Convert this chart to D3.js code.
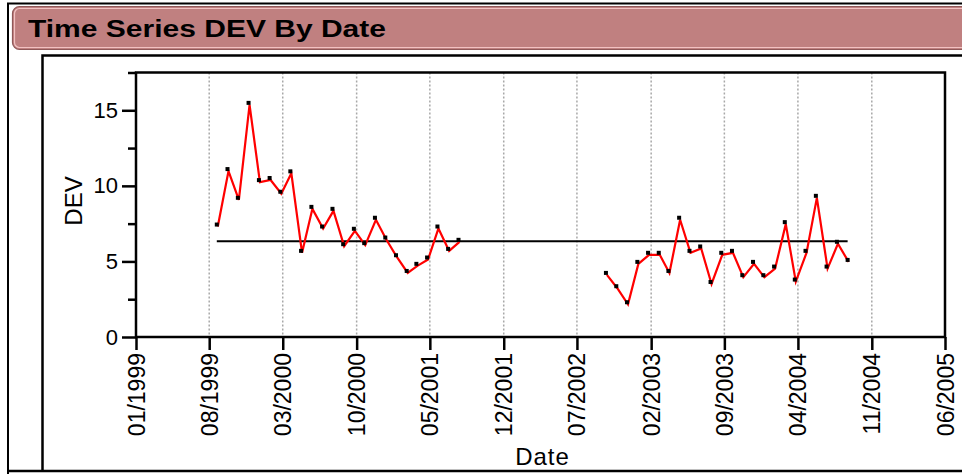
<!DOCTYPE html>
<html lang="en">
<head>
    <meta charset="UTF-8">
    <title>Time Series DEV By Date</title>
    <script src="https://d3js.org/d3.v7.min.js"></script>
    <style>
        body { margin: 0; background: #fff; }
        svg { display: block; font-family: Arial, "Liberation Sans", sans-serif; }
    </style>
</head>
<body>
    <div id="chart"></div>

    <script>
        // monthly readings, two separate periods (gap in between)
        var period1Dates = ["1999-08-23", "1999-09-23", "1999-10-23", "1999-11-23", "1999-12-23", "2000-01-23",
                            "2000-02-23", "2000-03-23", "2000-04-23", "2000-05-23", "2000-06-23", "2000-07-23",
                            "2000-08-23", "2000-09-23", "2000-10-23", "2000-11-23", "2000-12-23", "2001-01-23",
                            "2001-02-23", "2001-03-23", "2001-04-23", "2001-05-23", "2001-06-23", "2001-07-23"];
        var period1DEV = [7.44, 11.11, 9.21, 15.49, 10.38, 10.52, 9.61, 10.96, 5.70, 8.61, 7.31, 8.48,
                          6.14, 7.16, 6.21, 7.89, 6.58, 5.41, 4.37, 4.84, 5.26, 7.31, 5.83, 6.43];

        var period2Dates = ["2002-09-23", "2002-10-23", "2002-11-23", "2002-12-23", "2003-01-23", "2003-02-23",
                            "2003-03-23", "2003-04-23", "2003-05-23", "2003-06-23", "2003-07-23", "2003-08-23",
                            "2003-09-23", "2003-10-23", "2003-11-23", "2003-12-23", "2004-01-23", "2004-02-23",
                            "2004-03-23", "2004-04-23", "2004-05-23", "2004-06-23", "2004-07-23", "2004-08-23"];
        var period2DEV = [4.24, 3.36, 2.30, 4.97, 5.57, 5.57, 4.37, 7.89, 5.70, 5.99, 3.64, 5.57,
                          5.70, 4.09, 4.97, 4.09, 4.66, 7.60, 3.80, 5.70, 9.34, 4.66, 6.30, 5.10];

        var meanDEV = 6.34;

        var xTickLabels = ["01/1999", "08/1999", "03/2000", "10/2000", "05/2001", "12/2001",
                           "07/2002", "02/2003", "09/2003", "04/2004", "11/2004", "06/2005"];
        var yMajorTicks = [0, 5, 10, 15];
        var yMinorTicks = [2.5, 7.5, 12.5, 17.5];

        var width = 962, height = 474;
        var plot = { left: 136, top: 72.5, right: 945, bottom: 337 };

        var parseDay = d3.timeParse("%Y-%m-%d");
        var parseTick = d3.timeParse("%m/%Y");

        var svg = d3.select("#chart").append("svg")
            .attr("width", width)
            .attr("height", height);

        // outer frame
        svg.append("path")
            .attr("d", "M8,474 V3.5 H962")
            .attr("fill", "none")
            .attr("stroke", "#000")
            .attr("stroke-width", 2);
        svg.append("line")
            .attr("x1", 8).attr("x2", width)
            .attr("y1", 471).attr("y2", 471)
            .attr("stroke", "#000").attr("stroke-width", 2.5);

        // title bar
        svg.append("rect")
            .attr("x", 12.5).attr("y", 6.5)
            .attr("width", 980).attr("height", 43)
            .attr("rx", 7)
            .attr("fill", "#c08080")
            .attr("stroke", "#8f5858")
            .attr("stroke-width", 1.2);
        svg.append("rect")
            .attr("x", 14.5).attr("y", 8.5)
            .attr("width", 976).attr("height", 39)
            .attr("rx", 5)
            .attr("fill", "none")
            .attr("stroke", "#f2c2c2")
            .attr("stroke-width", 1.2);
        svg.append("text")
            .attr("x", 28).attr("y", 37)
            .attr("font-size", 23)
            .attr("font-weight", "bold")
            .attr("textLength", 358)
            .attr("lengthAdjust", "spacingAndGlyphs")
            .text("Time Series DEV By Date");

        // inner frame
        svg.append("path")
            .attr("d", "M42.5,471 V55.5 H962")
            .attr("fill", "none")
            .attr("stroke", "#000")
            .attr("stroke-width", 2.5);

        var x = d3.scaleTime()
            .domain([parseTick(xTickLabels[0]), parseTick(xTickLabels[xTickLabels.length - 1])])
            .range([plot.left, plot.right]);

        var y = d3.scaleLinear()
            .domain([0, 17.5])
            .range([plot.bottom, plot.top]);

        var xTicks = xTickLabels.map(function(s) { return parseTick(s); });

        // dotted grid lines
        svg.append("g").selectAll("line")
            .data(xTicks.slice(1, -1))
            .enter().append("line")
            .attr("x1", function(d) { return x(d); })
            .attr("x2", function(d) { return x(d); })
            .attr("y1", plot.top)
            .attr("y2", plot.bottom)
            .attr("stroke", "#a8a8a8")
            .attr("stroke-width", 1.5)
            .attr("stroke-dasharray", "2,2");

        // y axis
        var yAxis = svg.append("g")
            .attr("transform", "translate(" + plot.left + ",0)")
            .call(d3.axisLeft(y).tickValues(yMajorTicks).tickSize(14).tickPadding(4));
        yAxis.select(".domain").remove();
        yAxis.selectAll(".tick line").attr("stroke-width", 2.5);
        yAxis.selectAll("text").attr("font-size", 22).attr("fill", "#000")
            .attr("font-family", "Arial, 'Liberation Sans', sans-serif");

        svg.append("g")
            .attr("transform", "translate(" + plot.left + ",0)")
            .call(d3.axisLeft(y).tickValues(yMinorTicks).tickSize(8).tickFormat(""))
            .call(function(g) { g.select(".domain").remove(); })
            .selectAll(".tick line").attr("stroke-width", 2.5);

        // x axis
        var xAxis = svg.append("g")
            .attr("transform", "translate(0," + plot.bottom + ")")
            .call(d3.axisBottom(x).tickValues(xTicks).tickSize(13)
                .tickFormat(function(d, i) { return xTickLabels[i]; }));
        xAxis.select(".domain").remove();
        xAxis.selectAll(".tick line").attr("stroke-width", 2.5);
        xAxis.selectAll("text")
            .attr("font-size", 23)
            .attr("fill", "#000")
            .attr("font-family", "Arial, 'Liberation Sans', sans-serif")
            .attr("text-anchor", "end")
            .attr("dy", null)
            .attr("y", 0)
            .attr("transform", "translate(8,16) rotate(-90)");

        // plot frame
        svg.append("rect")
            .attr("x", plot.left).attr("y", plot.top)
            .attr("width", plot.right - plot.left)
            .attr("height", plot.bottom - plot.top)
            .attr("fill", "none")
            .attr("stroke", "#000")
            .attr("stroke-width", 2.5);

        // axis titles
        svg.append("text")
            .attr("transform", "translate(82,201) rotate(-90)")
            .attr("text-anchor", "middle")
            .attr("font-size", 24)
            .text("DEV");
        svg.append("text")
            .attr("x", (plot.left + plot.right) / 2 + 2)
            .attr("y", 465)
            .attr("text-anchor", "middle")
            .attr("font-size", 24)
            .attr("letter-spacing", 1)
            .text("Date");

        var periods = [
            period1Dates.map(function(d, i) { return { date: parseDay(d), value: period1DEV[i] }; }),
            period2Dates.map(function(d, i) { return { date: parseDay(d), value: period2DEV[i] }; })
        ];

        // mean line
        svg.append("line")
            .attr("x1", x(parseDay(period1Dates[0])))
            .attr("x2", x(parseDay(period2Dates[period2Dates.length - 1])))
            .attr("y1", y(meanDEV))
            .attr("y2", y(meanDEV))
            .attr("stroke", "#000")
            .attr("stroke-width", 2);

        var line = d3.line()
            .x(function(d) { return x(d.date); })
            .y(function(d) { return y(d.value); });

        svg.append("g")
            .attr("transform", "translate(1,2)")
            .selectAll("path")
            .data(periods)
            .enter().append("path")
            .attr("d", line)
            .attr("fill", "none")
            .attr("stroke", "#ff0000")
            .attr("stroke-width", 2.2);

        svg.append("g").selectAll("rect")
            .data(periods[0].concat(periods[1]))
            .enter().append("rect")
            .attr("x", function(d) { return x(d.date) - 2; })
            .attr("y", function(d) { return y(d.value) - 2; })
            .attr("width", 4)
            .attr("height", 4)
            .attr("fill", "#000");
    </script>
</body>
</html>
